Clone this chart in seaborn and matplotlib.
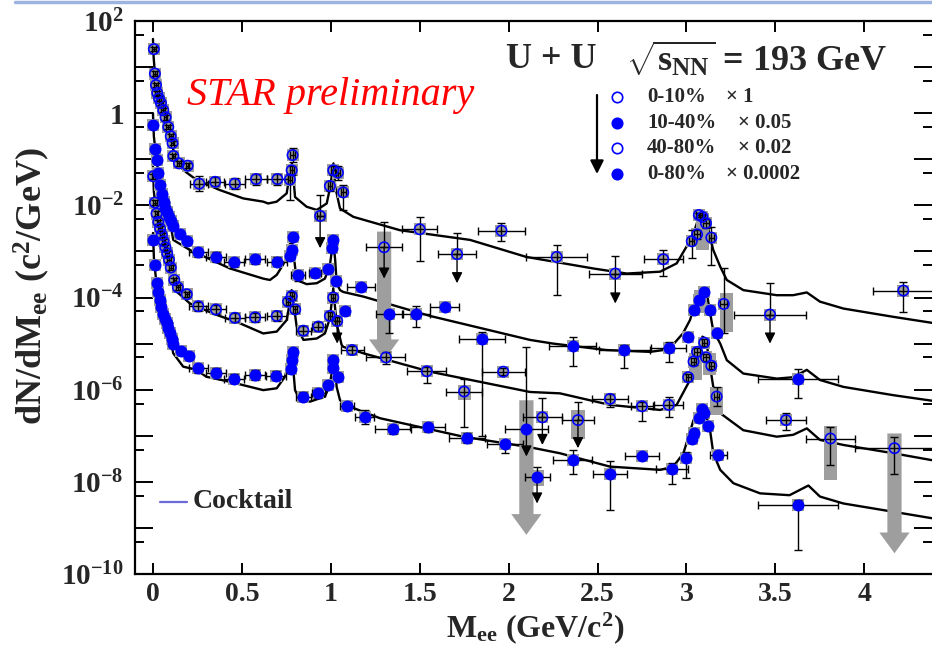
import numpy as np
import pandas as pd
import seaborn as sns
import matplotlib.pyplot as plt
from matplotlib.patches import Polygon, Rectangle
from matplotlib.lines import Line2D
from matplotlib.ticker import FixedLocator, FixedFormatter, NullLocator

# all y numbers are log10(dN/dM), errors in decades

# 0-10% x 1 (open circles)
a_m = [0.005, 0.011, 0.017, 0.024, 0.034, 0.045, 0.058, 0.071, 0.086, 0.100, 0.110, 0.115, 0.146, 0.195,
       0.26, 0.35, 0.46, 0.58, 0.70, 0.77, 0.78, 0.785, 0.94, 0.995, 1.014, 1.04, 1.07,
       1.30, 1.50, 1.71, 1.96, 2.27, 2.60, 2.87, 3.03, 3.06, 3.07, 3.09, 3.11, 3.14, 3.21, 3.47, 4.22]
a_lg = [1.39, 0.86, 0.61, 0.44, 0.32, 0.22, 0.065, -0.09, -0.30, -0.50, -0.65, -0.93, -1.09, -1.14,
        -1.53, -1.49, -1.53, -1.43, -1.43, -1.44, -1.24, -0.91, -2.23, -1.58, -1.24, -1.29, -1.72,
        -2.91, -2.52, -3.06, -2.55, -3.12, -3.48, -3.17, -2.78, -2.63, -2.21, -2.25, -2.39, -2.70, -4.14, -4.37, -3.85]
a_dx = [0.01, 0.01, 0.01, 0.01, 0.01, 0.01, 0.01, 0.01, 0.01, 0.01, 0.01, 0.01, 0.01, 0.01,
        0.05, 0.05, 0.055, 0.06, 0.06, 0.012, 0.012, 0.012, 0.02, 0.012, 0.012, 0.012, 0.015,
        0.1, 0.1, 0.105, 0.13, 0.17, 0.15, 0.11, 0.015, 0.015, 0.015, 0.015, 0.015, 0.015, 0.02, 0.2, 0.17]
a_up = [0.05, 0.05, 0.05, 0.05, 0.05, 0.05, 0.05, 0.05, 0.05, 0.05, 0.05, 0.05, 0.06, 0.06,
        0.16, 0.1, 0.12, 0.12, 0.12, 0.13, 0.1, 0.15, 0.46, 0.1, 0.1, 0.15, 0.16,
        0.55, 0.26, 0.46, 0.16, 0.26, 0.38, 0.21, 0.24, 0.1, 0.05, 0.05, 0.1, 0.23, 0.77, 0.69, 0.19]
a_dn = [0.05, 0.05, 0.05, 0.05, 0.05, 0.05, 0.05, 0.05, 0.05, 0.05, 0.05, 0.05, 0.06, 0.06,
        0.16, 0.1, 0.12, 0.12, 0.12, 0.45, 0.1, 0.15, 0.0, 0.1, 0.1, 0.15, 0.38,
        0.0, 0.68, 0.0, 0.22, 0.83, 0.0, 0.37, 0.37, 0.1, 0.05, 0.05, 0.1, 0.6, 0.63, 0.0, 0.46]

# 10-40% x 0.05 (filled)
b_m = [0.002, 0.011, 0.02, 0.03, 0.04, 0.05, 0.06, 0.07, 0.08, 0.09, 0.10, 0.114, 0.15, 0.19,
       0.255, 0.354, 0.457, 0.575, 0.696, 0.77, 0.78, 0.785, 0.817, 0.91, 0.986, 1.005, 1.014, 1.03, 1.08,
       1.17, 1.33, 1.48, 1.64, 1.85, 2.36, 2.65, 2.90, 3.01, 3.04, 3.07, 3.10, 3.13, 3.17, 3.63]
b_lg = [-0.26, -0.77, -1.02, -1.30, -1.55, -1.75, -1.92, -2.05, -2.15, -2.25, -2.33, -2.45, -2.62, -2.77,
        -3.02, -3.12, -3.24, -3.17, -3.22, -3.10, -2.97, -2.68, -3.51, -3.46, -3.39, -2.93, -2.75, -3.64, -4.29,
        -3.78, -4.35, -4.35, -4.21, -4.91, -5.05, -5.14, -5.10, -4.85, -4.27, -4.06, -3.88, -4.27, -4.78, -5.76]
b_dx = [0.01, 0.01, 0.01, 0.01, 0.01, 0.01, 0.01, 0.01, 0.01, 0.01, 0.01, 0.01, 0.01, 0.01,
        0.055, 0.055, 0.055, 0.055, 0.055, 0.012, 0.012, 0.012, 0.04, 0.035, 0.012, 0.012, 0.012, 0.012, 0.02,
        0.08, 0.075, 0.08, 0.08, 0.127, 0.133, 0.143, 0.1, 0.015, 0.015, 0.015, 0.015, 0.015, 0.015, 0.225]
b_up = [0.05, 0.05, 0.05, 0.05, 0.05, 0.05, 0.05, 0.05, 0.05, 0.05, 0.05, 0.05, 0.05, 0.05,
        0.1, 0.1, 0.1, 0.1, 0.1, 0.08, 0.08, 0.08, 0.08, 0.08, 0.08, 0.08, 0.08, 0.08, 0.06,
        0.06, 0.06, 0.17, 0.06, 0.17, 0.19, 0.1, 0.13, 0.08, 0.08, 0.08, 0.08, 0.08, 0.08, 0.21]
b_dn = [0.05, 0.05, 0.05, 0.05, 0.05, 0.05, 0.05, 0.05, 0.05, 0.05, 0.05, 0.05, 0.05, 0.05,
        0.1, 0.1, 0.1, 0.1, 0.1, 0.08, 0.08, 0.08, 0.14, 0.1, 0.08, 0.08, 0.08, 0.08, 0.06,
        0.06, 0.43, 0.30, 0.06, 2.1, 0.44, 0.38, 0.30, 0.08, 0.08, 0.08, 0.08, 0.08, 0.08, 0.43]

# 40-80% x 0.02 (open circles)
c_m = [0.002, 0.011, 0.02, 0.03, 0.04, 0.05, 0.06, 0.07, 0.08, 0.09, 0.10, 0.12, 0.14, 0.19,
       0.255, 0.354, 0.461, 0.575, 0.696, 0.76, 0.78, 0.80, 0.846, 0.93, 0.995, 1.014, 1.036,
       1.12, 1.31, 1.54, 1.75, 1.97, 2.19, 2.39, 2.57, 2.75, 2.90,
       3.01, 3.04, 3.06, 3.10, 3.11, 3.14, 3.17, 3.56, 3.81, 4.17]
c_lg = [-1.37, -1.94, -2.18, -2.36, -2.50, -2.64, -2.78, -2.91, -3.04, -3.18, -3.35, -3.62, -3.78, -3.93,
        -4.19, -4.26, -4.44, -4.43, -4.40, -4.09, -3.97, -4.26, -4.72, -4.63, -4.40, -4.00, -4.51,
        -5.14, -5.30, -5.60, -6.04, -5.61, -6.60, -6.66, -6.20, -6.36, -6.33,
        -5.73, -5.39, -5.18, -4.98, -5.30, -5.48, -6.15, -6.66, -7.06, -7.27]
c_dx = [0.01, 0.01, 0.01, 0.01, 0.01, 0.01, 0.01, 0.01, 0.01, 0.01, 0.01, 0.01, 0.01, 0.01,
        0.055, 0.055, 0.055, 0.055, 0.055, 0.012, 0.012, 0.012, 0.04, 0.035, 0.012, 0.012, 0.012,
        0.065, 0.11, 0.11, 0.1, 0.12, 0.11, 0.09, 0.1, 0.06, 0.08,
        0.015, 0.015, 0.015, 0.015, 0.015, 0.015, 0.015, 0.11, 0.14, 0.22]
c_up = [0.05, 0.05, 0.05, 0.05, 0.05, 0.05, 0.05, 0.05, 0.05, 0.05, 0.05, 0.05, 0.05, 0.05,
        0.1, 0.1, 0.1, 0.1, 0.1, 0.08, 0.08, 0.08, 0.1, 0.1, 0.08, 0.08, 0.08,
        0.08, 0.12, 0.1, 0.28, 0.08, 0.43, 0.40, 0.1, 0.1, 0.18,
        0.08, 0.08, 0.08, 0.08, 0.08, 0.08, 0.2, 0.15, 0.25, 0.25]
c_dn = [0.05, 0.05, 0.05, 0.05, 0.05, 0.05, 0.05, 0.05, 0.05, 0.05, 0.05, 0.05, 0.05, 0.05,
        0.1, 0.1, 0.1, 0.1, 0.1, 0.08, 0.08, 0.08, 0.1, 0.1, 0.08, 0.08, 0.0,
        0.08, 0.15, 0.26, 0.77, 0.08, 0.0, 0.0, 0.17, 0.33, 0.26,
        0.08, 0.08, 0.08, 0.08, 0.08, 0.08, 0.2, 0.22, 0.58, 0.57]

# 0-80% x 0.0002 (filled)
d_m = [0.002, 0.011, 0.02, 0.03, 0.039, 0.048, 0.058, 0.068, 0.077, 0.087, 0.096, 0.105, 0.114, 0.16, 0.20,
       0.255, 0.354, 0.457, 0.574, 0.692, 0.775, 0.78, 0.785, 0.846, 0.93, 0.986, 1.01, 1.015, 1.04,
       1.09, 1.19, 1.35, 1.545, 1.765, 1.98, 2.10, 2.16, 2.36, 2.57, 2.75, 2.92, 3.00,
       3.03, 3.04, 3.07, 3.09, 3.10, 3.12, 3.18, 3.63]
d_lg = [-2.75, -3.30, -3.69, -3.88, -4.06, -4.20, -4.35, -4.46, -4.56, -4.67, -4.78, -4.89, -5.00, -5.16, -5.28,
        -5.54, -5.63, -5.76, -5.68, -5.70, -5.56, -5.36, -5.18, -6.15, -6.08, -5.90, -5.54, -5.36, -5.72,
        -6.36, -6.59, -6.86, -6.82, -7.05, -7.18, -6.86, -7.89, -7.53, -7.82, -7.44, -7.72, -7.49,
        -7.06, -6.95, -6.62, -6.43, -6.51, -6.79, -7.42, -8.50]
d_dx = [0.01, 0.01, 0.01, 0.01, 0.01, 0.01, 0.01, 0.01, 0.01, 0.01, 0.01, 0.01, 0.01, 0.01, 0.01,
        0.055, 0.055, 0.055, 0.055, 0.055, 0.012, 0.012, 0.012, 0.04, 0.035, 0.012, 0.012, 0.012, 0.012,
        0.04, 0.055, 0.1, 0.1, 0.1, 0.1, 0.12, 0.07, 0.11, 0.095, 0.094, 0.09, 0.015,
        0.015, 0.015, 0.015, 0.015, 0.015, 0.015, 0.047, 0.225]
d_up = [0.05, 0.05, 0.05, 0.05, 0.05, 0.05, 0.05, 0.05, 0.05, 0.05, 0.05, 0.05, 0.05, 0.05, 0.05,
        0.1, 0.1, 0.1, 0.1, 0.1, 0.08, 0.08, 0.08, 0.1, 0.1, 0.08, 0.08, 0.08, 0.08,
        0.08, 0.15, 0.1, 0.1, 0.1, 0.06, 1.79, 0.22, 0.22, 0.27, 0.07, 0.13, 0.14,
        0.08, 0.08, 0.08, 0.08, 0.08, 0.08, 0.08, 0.11]
d_dn = [0.05, 0.05, 0.05, 0.05, 0.05, 0.05, 0.05, 0.05, 0.05, 0.05, 0.05, 0.05, 0.05, 0.05, 0.05,
        0.1, 0.1, 0.1, 0.1, 0.1, 0.08, 0.08, 0.08, 0.1, 0.1, 0.08, 0.08, 0.08, 0.08,
        0.08, 0.15, 0.1, 0.1, 0.1, 0.2, 0.0, 0.0, 0.29, 0.8, 0.07, 0.32, 0.43,
        0.08, 0.08, 0.08, 0.08, 0.08, 0.08, 0.08, 0.98]

# cocktail curves
ca_m = [0.0, 0.004, 0.011, 0.024, 0.045, 0.071, 0.1, 0.133, 0.186, 0.246, 0.377, 0.508, 0.62, 0.648, 0.696,
        0.752, 0.772, 0.782, 0.79, 0.799, 0.864, 0.921, 0.977, 0.997, 1.015, 1.025, 1.052, 1.127, 1.389,
        1.783, 2.10, 2.476, 2.664, 2.852, 2.945, 3.00, 3.04, 3.076, 3.10, 3.151, 3.19, 3.227, 3.32,
        3.508, 3.60, 3.677, 3.751, 3.883, 4.164, 4.381]
ca_lg = [1.61, 1.2, 0.86, 0.44, 0.2, -0.12, -0.55, -1.09, -1.28, -1.45, -1.67, -1.85, -1.92, -1.96, -1.92,
         -1.74, -1.25, -1.09, -1.40, -1.82, -2.03, -2.10, -1.96, -1.60, -1.09, -1.60, -2.07, -2.25, -2.54,
         -2.75, -3.12, -3.37, -3.48, -3.44, -3.26, -2.90, -2.61, -2.18, -2.15, -2.97, -3.33, -3.62, -3.84,
         -3.95, -3.95, -3.89, -4.09, -4.24, -4.42, -4.55]
cb_m = [0.0, 0.005, 0.02, 0.04, 0.06, 0.08, 0.1, 0.114, 0.208, 0.433, 0.62, 0.658, 0.696, 0.73, 0.762, 0.772,
        0.78, 0.788, 0.799, 0.808, 0.864, 0.921, 0.967, 0.995, 1.014, 1.025, 1.033, 1.052, 1.07, 1.183, 1.558,
        2.12, 2.25, 2.55, 2.795, 2.87, 2.93, 2.98, 3.02, 3.06, 3.09, 3.11, 3.15, 3.19, 3.227, 3.32, 3.508,
        3.60, 3.677, 3.751, 3.883, 4.164, 4.381]
cb_lg = [0.0, -0.5, -1.02, -1.55, -1.92, -2.2, -2.45, -2.75, -2.97, -3.37, -3.59, -3.62, -3.51, -3.30, -3.05, -2.80,
         -2.68, -2.95, -3.33, -3.62, -3.71, -3.69, -3.59, -3.30, -2.75, -3.20, -3.69, -3.84, -3.88, -3.98, -4.40,
         -4.92, -5.00, -5.14, -5.18, -5.14, -5.00, -4.78, -4.49, -4.0, -3.78, -3.80, -4.71, -5.00, -5.36, -5.65, -5.76,
         -5.73, -5.57, -5.79, -5.94, -6.12, -6.24]
cc_m = [0.0, 0.005, 0.02, 0.04, 0.06, 0.08, 0.1, 0.124, 0.208, 0.339, 0.489, 0.62, 0.696, 0.752, 0.772, 0.78,
        0.79, 0.808, 0.846, 0.921, 0.967, 0.995, 1.014, 1.026, 1.037, 1.061, 1.07, 1.183, 1.558, 2.12, 2.289,
        2.57, 2.852, 2.945, 3.02, 3.06, 3.09, 3.11, 3.133, 3.151, 3.19, 3.32, 3.508, 3.60, 3.677, 3.751,
        3.883, 4.164, 4.381]
cc_lg = [-1.16, -1.7, -2.2, -2.5, -2.78, -3.04, -3.35, -3.84, -4.13, -4.35, -4.56, -4.78, -4.74, -4.49, -4.05, -3.84,
         -4.1, -4.63, -4.92, -4.89, -4.78, -4.45, -3.80, -4.30, -4.63, -5.03, -5.07, -5.21, -5.61, -6.05, -6.08,
         -6.33, -6.44, -6.33, -5.79, -5.2, -4.85, -4.9, -5.50, -5.94, -6.51, -6.88, -7.02, -6.98, -6.84, -7.09,
         -7.20, -7.38, -7.53]
cd_m = [0.0, 0.006, 0.02, 0.04, 0.06, 0.08, 0.1, 0.114, 0.17, 0.246, 0.30, 0.433, 0.62, 0.696, 0.742, 0.765,
        0.78, 0.79, 0.799, 0.827, 0.883, 0.967, 0.995, 1.018, 1.026, 1.033, 1.052, 1.108, 1.277, 1.745, 2.12,
        2.289, 2.57, 2.852, 2.926, 2.983, 3.04, 3.086, 3.10, 3.133, 3.151, 3.19, 3.264, 3.414, 3.58, 3.686,
        3.751, 3.883, 4.164, 4.381]
cd_lg = [-2.60, -3.2, -3.7, -4.1, -4.4, -4.65, -4.95, -5.21, -5.50, -5.57, -5.72, -5.83, -6.01, -5.97, -5.72, -5.40,
         -5.10, -5.6, -6.01, -6.23, -6.26, -6.15, -5.9, -5.29, -5.6, -5.94, -6.23, -6.37, -6.62, -7.02, -7.25,
         -7.38, -7.67, -7.74, -7.67, -7.38, -6.66, -6.37, -6.40, -6.88, -7.38, -7.74, -8.03, -8.25, -8.29, -8.08,
         -8.32, -8.47, -8.65, -8.79]

# upper limits (black arrows)
ul_m = [0.94, 1.30, 1.71, 2.60, 3.47, 1.036, 2.19, 2.39, 2.10, 2.16]
ul_from = [-2.23, -2.91, -3.06, -3.48, -4.37, -4.51, -6.60, -6.66, -6.86, -7.89]
ul_to = [-2.93, -3.59, -3.69, -4.13, -5.00, -5.00, -7.20, -7.27, -7.45, -8.47]

# systematic upper limits (grey arrows)
ga_m = [1.30, 2.10, 4.17]
ga_top = [-2.57, -6.23, -6.95]
ga_tip = [-5.36, -9.15, -9.55]

# larger systematic boxes
sb_m = [3.225, 3.17, 3.81, 2.39, 2.16, 3.09, 3.08, 3.05, 3.13, 0.94, 1.75]
sb_lo = [-4.75, -6.55, -7.96, -7.08, -8.10, -2.97, -4.34, -5.79, -5.68, -2.36, -6.23]
sb_hi = [-3.90, -5.94, -6.79, -6.44, -7.74, -2.17, -3.84, -5.20, -5.20, -2.10, -5.90]

labels = ["0-10%", "10-40%", "40-80%", "0-80%"]
factors = ["\u00d7 1", "\u00d7 0.05", "\u00d7 0.02", "\u00d7 0.0002"]

x_ticks = [0, 0.5, 1, 1.5, 2, 2.5, 3, 3.5, 4]
x_tick_labels = ["0", "0.5", "1", "1.5", "2", "2.5", "3", "3.5", "4"]
y_ticks = [1e-10, 1e-9, 1e-8, 1e-7, 1e-6, 1e-5, 1e-4, 1e-3, 1e-2, 1e-1, 1, 10, 100]
y_tick_labels = [r"$10^{-10}$", "", r"$10^{-8}$", "", r"$10^{-6}$", "", r"$10^{-4}$", "",
                 r"$10^{-2}$", "", "1", "", r"$10^{2}$"]
y_minor = [5e-10, 5e-9, 5e-8, 5e-7, 5e-6, 5e-5, 5e-4, 5e-3, 5e-2, 5e-1, 5, 50]

BLUE = "#0000ff"
GREY = "#9e9e9e"

sns.set_style("ticks")
plt.rcParams["font.family"] = ["Liberation Serif", "DejaVu Serif"]
plt.rcParams["font.weight"] = "bold"
plt.rcParams["mathtext.fontset"] = "custom"
plt.rcParams["mathtext.rm"] = "Liberation Serif:bold"
plt.rcParams["mathtext.bf"] = "Liberation Serif:bold"
plt.rcParams["mathtext.it"] = "Liberation Serif:italic:bold"
plt.rcParams["mathtext.default"] = "rm"


def val(lg):
    return 10.0 ** np.asarray(lg, dtype=float)


def draw_series(ax, m, lg, dx, up, dn, filled):
    y = val(lg)
    lo = y - val(np.asarray(lg) - np.asarray(dn))
    hi = val(np.asarray(lg) + np.asarray(up)) - y
    df = pd.DataFrame({"m": m, "y": y})
    sns.scatterplot(data=df, x="m", y="y", ax=ax, marker="s", s=80, color=GREY,
                    linewidth=0, zorder=2, legend=False)
    ax.errorbar(m, y, xerr=dx, yerr=[lo, hi], fmt="none", ecolor="black",
                elinewidth=1.0, capsize=3, capthick=1.0, zorder=3)
    sns.scatterplot(data=df, x="m", y="y", ax=ax, marker="o", s=55, color=BLUE,
                    linewidth=1.2, zorder=4, legend=False)
    pts = ax.collections[-1]
    pts.set_edgecolor(BLUE)
    if not filled:
        pts.set_facecolor("none")


fig = plt.figure(figsize=(9.32, 6.49), dpi=100)
ax = fig.add_axes([135 / 932, 75 / 649, 797 / 932, 553 / 649])
ax.set_yscale("log")
ax.set_xlim(-0.101, 4.381)
ax.set_ylim(1e-10, 1e2)

# cocktails
for cm, clg in [(ca_m, ca_lg), (cb_m, cb_lg), (cc_m, cc_lg), (cd_m, cd_lg)]:
    sns.lineplot(x=cm, y=val(clg), ax=ax, color="black", lw=1.7, sort=False,
                 estimator=None, zorder=1.5)

# grey systematic boxes and arrows
for m, lo, hi in zip(sb_m, sb_lo, sb_hi):
    ax.add_patch(Rectangle((m - 0.037, 10.0 ** lo), 0.074, 10.0 ** hi - 10.0 ** lo,
                           color=GREY, lw=0, zorder=1.8))
for m, top, tip in zip(ga_m, ga_top, ga_tip):
    head = tip + 0.45
    verts = [(m - 0.04, 10.0 ** top), (m + 0.04, 10.0 ** top), (m + 0.04, 10.0 ** head),
             (m + 0.085, 10.0 ** head), (m, 10.0 ** tip), (m - 0.085, 10.0 ** head),
             (m - 0.04, 10.0 ** head)]
    ax.add_patch(Polygon(verts, closed=True, color=GREY, lw=0, zorder=1.8))

draw_series(ax, a_m, a_lg, a_dx, a_up, a_dn, False)
draw_series(ax, b_m, b_lg, b_dx, b_up, b_dn, True)
draw_series(ax, c_m, c_lg, c_dx, c_up, c_dn, False)
draw_series(ax, d_m, d_lg, d_dx, d_up, d_dn, True)

for m, f, t in zip(ul_m, ul_from, ul_to):
    ax.annotate("", xy=(m, 10.0 ** t), xytext=(m, 10.0 ** f),
                arrowprops=dict(arrowstyle="-|>", color="black", lw=1.0,
                                mutation_scale=16, shrinkA=0, shrinkB=0), zorder=3)

# axes cosmetics
ax.xaxis.set_major_locator(FixedLocator(x_ticks))
ax.xaxis.set_major_formatter(FixedFormatter(x_tick_labels))
ax.xaxis.set_minor_locator(NullLocator())
ax.yaxis.set_major_locator(FixedLocator(y_ticks))
ax.yaxis.set_major_formatter(FixedFormatter(y_tick_labels))
ax.yaxis.set_minor_locator(FixedLocator(y_minor))
ax.tick_params(which="both", direction="in", top=True, right=True, width=1.4, color="black")
ax.tick_params(axis="x", which="major", length=8, labelsize=20, pad=6)
ax.tick_params(axis="y", which="major", length=13, labelsize=21, pad=8)
ax.tick_params(axis="y", which="minor", length=6.5)
for s in ["left", "bottom", "top"]:
    ax.spines[s].set_linewidth(1.6)
    ax.spines[s].set_color("black")
ax.spines["right"].set_visible(False)

ax.set_xlabel(r"M$_{\rm ee}$ (GeV/c$^{2}$)", fontsize=23, fontweight="bold")
ax.xaxis.set_label_coords(0.502, -0.066)
ax.set_ylabel(r"dN/dM$_{\rm ee}$ (c$^{2}$/GeV)", fontsize=26, fontweight="bold")
ax.yaxis.set_label_coords(-0.104, 0.52)

# header texts
fig.text(506 / 932, 1 - 59 / 649, "U + U", fontsize=26, fontweight="bold", va="center")
fig.text(626 / 932, 1 - 59 / 649, r"$\sqrt{\rm s_{NN}}$ = 193 GeV", fontsize=26,
         fontweight="bold", va="center")
fig.text(187 / 932, 1 - 95 / 649, "STAR preliminary", fontsize=29, fontstyle="italic",
         fontweight="normal", color="#ff0000", va="center")

rows_y = [97, 123, 148, 174]
fac_x = [726, 738, 738, 726]
for i, (lab, fac) in enumerate(zip(labels, factors)):
    yy = 1 - rows_y[i] / 649
    filled = i % 2 == 1
    fig.add_artist(Line2D([617 / 932], [yy], marker="o", markersize=7.5,
                          markerfacecolor=BLUE if filled else "none",
                          markeredgecolor=BLUE, markeredgewidth=1.2, transform=fig.transFigure))
    fig.text(647 / 932, yy, lab, fontsize=15, fontweight="bold", va="center")
    fig.text(fac_x[i] / 932, yy, fac, fontsize=15, fontweight="bold", va="center")
ax.annotate("", xy=(597 / 932, 1 - 174 / 649), xytext=(597 / 932, 1 - 95 / 649),
            xycoords="figure fraction", textcoords="figure fraction",
            arrowprops=dict(arrowstyle="-|>", color="black", lw=1.6,
                            mutation_scale=20, shrinkA=0, shrinkB=0))

fig.add_artist(Line2D([160 / 932, 187 / 932], [1 - 502 / 649] * 2, color="#6b6bd8", lw=1.6,
                      transform=fig.transFigure))
fig.text(193 / 932, 1 - 502 / 649, "Cocktail", fontsize=20, fontweight="bold", va="center")

# slide border at the top
fig.add_artist(Line2D([15 / 932, 1.0], [1 - 1.5 / 649] * 2, color="#9db3e0", lw=2.5,
                      transform=fig.transFigure))

fig.savefig("out.png", dpi=100)
